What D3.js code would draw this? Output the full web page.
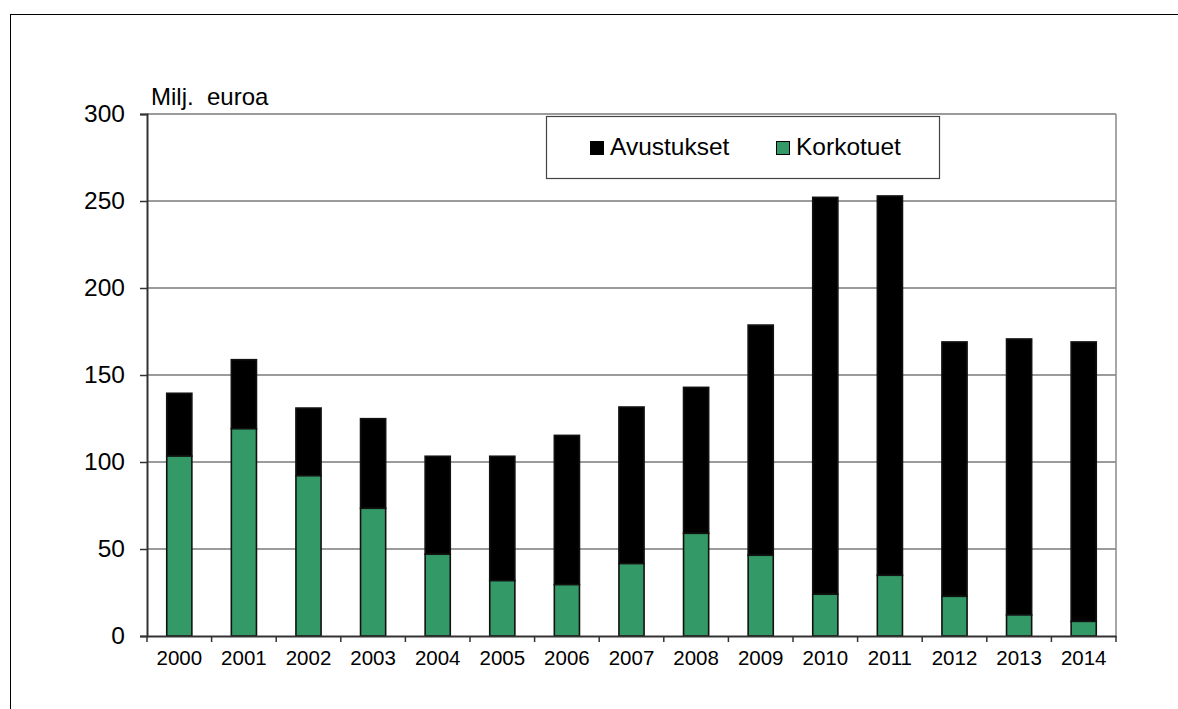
<!DOCTYPE html>
<html>
<head>
<meta charset="utf-8">
<script src="https://cdn.jsdelivr.net/npm/d3@7"></script>
<style>
  html, body { margin: 0; padding: 0; background: #fff; }
  svg { display: block; font-family: "Liberation Sans", Arial, sans-serif; }
</style>
</head>
<body>
<svg id="chart" width="1178" height="709"></svg>
<script>
// Vuodet
const years = ["2000","2001","2002","2003","2004","2005","2006","2007","2008","2009","2010","2011","2012","2013","2014"];
// Korkotuet, milj. euroa
const korkotuet = [103.4, 119.1, 92.1, 73.4, 47.0, 31.8, 29.5, 41.6, 59.0, 46.4, 24.0, 34.9, 22.8, 12.1, 8.4];
// Avustukset, milj. euroa
const avustukset = [36.1, 39.7, 38.9, 51.5, 56.3, 71.5, 85.8, 90.0, 83.9, 132.3, 228.1, 218.0, 146.2, 158.6, 160.6];
// Y-akselin jaot
const yTicks = [0, 50, 100, 150, 200, 250, 300];
const seriesNames = ["Avustukset", "Korkotuet"];
const seriesColors = { Avustukset: "#000000", Korkotuet: "#339966" };

const svg = d3.select("#chart");

// Ulkokehys
svg.append("rect")
  .attr("x", 10.5).attr("y", 14.5)
  .attr("width", 1300).attr("height", 800)
  .attr("fill", "none").attr("stroke", "#000").attr("stroke-width", 1);

const plot = { left: 147, top: 114, right: 1116, bottom: 636 };

const x = d3.scaleBand()
  .domain(years)
  .range([plot.left, plot.right])
  .paddingInner(0.58).paddingOuter(0.29);

const y = d3.scaleLinear().domain([0, 300]).range([plot.bottom, plot.top]);

// Vaakaviivat
svg.append("g")
  .selectAll("line")
  .data(yTicks.filter(t => t > 0))
  .join("line")
  .attr("x1", plot.left).attr("x2", plot.right)
  .attr("y1", d => y(d)).attr("y2", d => y(d))
  .attr("stroke", "#7a7a7a").attr("stroke-width", 1.3);

// Oikea reuna
svg.append("line")
  .attr("x1", plot.right).attr("x2", plot.right)
  .attr("y1", plot.top).attr("y2", plot.bottom)
  .attr("stroke", "#8a8a8a").attr("stroke-width", 1.5);

// Pinotut pylväät
const rows = years.map((yr, i) => ({ year: yr, Korkotuet: korkotuet[i], Avustukset: avustukset[i] }));
const stack = d3.stack().keys(["Korkotuet", "Avustukset"]);
const layers = stack(rows);

svg.append("g")
  .selectAll("g")
  .data(layers.slice().reverse())
  .join("g")
  .attr("fill", d => seriesColors[d.key])
  .selectAll("rect")
  .data(d => d)
  .join("rect")
  .attr("x", d => x(d.data.year) + 1)
  .attr("width", x.bandwidth() - 2)
  .attr("y", d => y(d[1]))
  .attr("height", d => y(d[0]) - y(d[1]))
  .attr("stroke", "#111")
  .attr("stroke-width", 1.6);

// Y-akseli
const yAxis = d3.axisLeft(y).tickValues(yTicks).tickSize(7).tickPadding(15).tickFormat(d3.format("d"));
const gy = svg.append("g").attr("transform", `translate(${plot.left},0)`).call(yAxis);
gy.select(".domain").attr("stroke", "#333").attr("stroke-width", 2);
gy.selectAll(".tick line").attr("stroke", "#333").attr("stroke-width", 1.5);
gy.selectAll(".tick text").attr("font-size", 24.5).attr("fill", "#000")
  .attr("font-family", "'Liberation Sans', Arial, sans-serif");

// X-akseli: jakoviivat luokkien välissä
const xAxis = d3.axisBottom(x).tickSize(0).tickPadding(14);
const gx = svg.append("g").attr("transform", `translate(0,${plot.bottom})`).call(xAxis);
gx.select(".domain").attr("stroke", "#333").attr("stroke-width", 1.8);
gx.selectAll(".tick text").attr("font-size", 20.5).attr("fill", "#000")
  .attr("font-family", "'Liberation Sans', Arial, sans-serif");

const boundaries = d3.range(years.length + 1).map(i => plot.left + i * (plot.right - plot.left) / years.length);
svg.append("g")
  .selectAll("line")
  .data(boundaries)
  .join("line")
  .attr("x1", d => d).attr("x2", d => d)
  .attr("y1", plot.bottom).attr("y2", plot.bottom + 6)
  .attr("stroke", "#333").attr("stroke-width", 1.5);

// Yksikkö
svg.append("text")
  .attr("x", 151).attr("y", 105)
  .attr("font-size", 24)
  .attr("fill", "#000")
  .attr("xml:space", "preserve")
  .text("Milj.  euroa");

// Selite
const legend = svg.append("g");
legend.append("rect")
  .attr("x", 546.5).attr("y", 116.5)
  .attr("width", 393).attr("height", 62)
  .attr("fill", "#fff").attr("stroke", "#444").attr("stroke-width", 1.2);

const legendX = [590, 776];
const legendItems = legend.selectAll("g.item")
  .data(seriesNames)
  .join("g")
  .attr("class", "item")
  .attr("transform", (d, i) => `translate(${legendX[i]},0)`);

legendItems.append("rect")
  .attr("x", 0.5).attr("y", 141.5)
  .attr("width", 13).attr("height", 13)
  .attr("fill", d => seriesColors[d])
  .attr("stroke", "#000").attr("stroke-width", 1);

legendItems.append("text")
  .attr("x", 20).attr("y", 155)
  .attr("font-size", 24.5)
  .attr("fill", "#000")
  .text(d => d);
</script>
</body>
</html>
